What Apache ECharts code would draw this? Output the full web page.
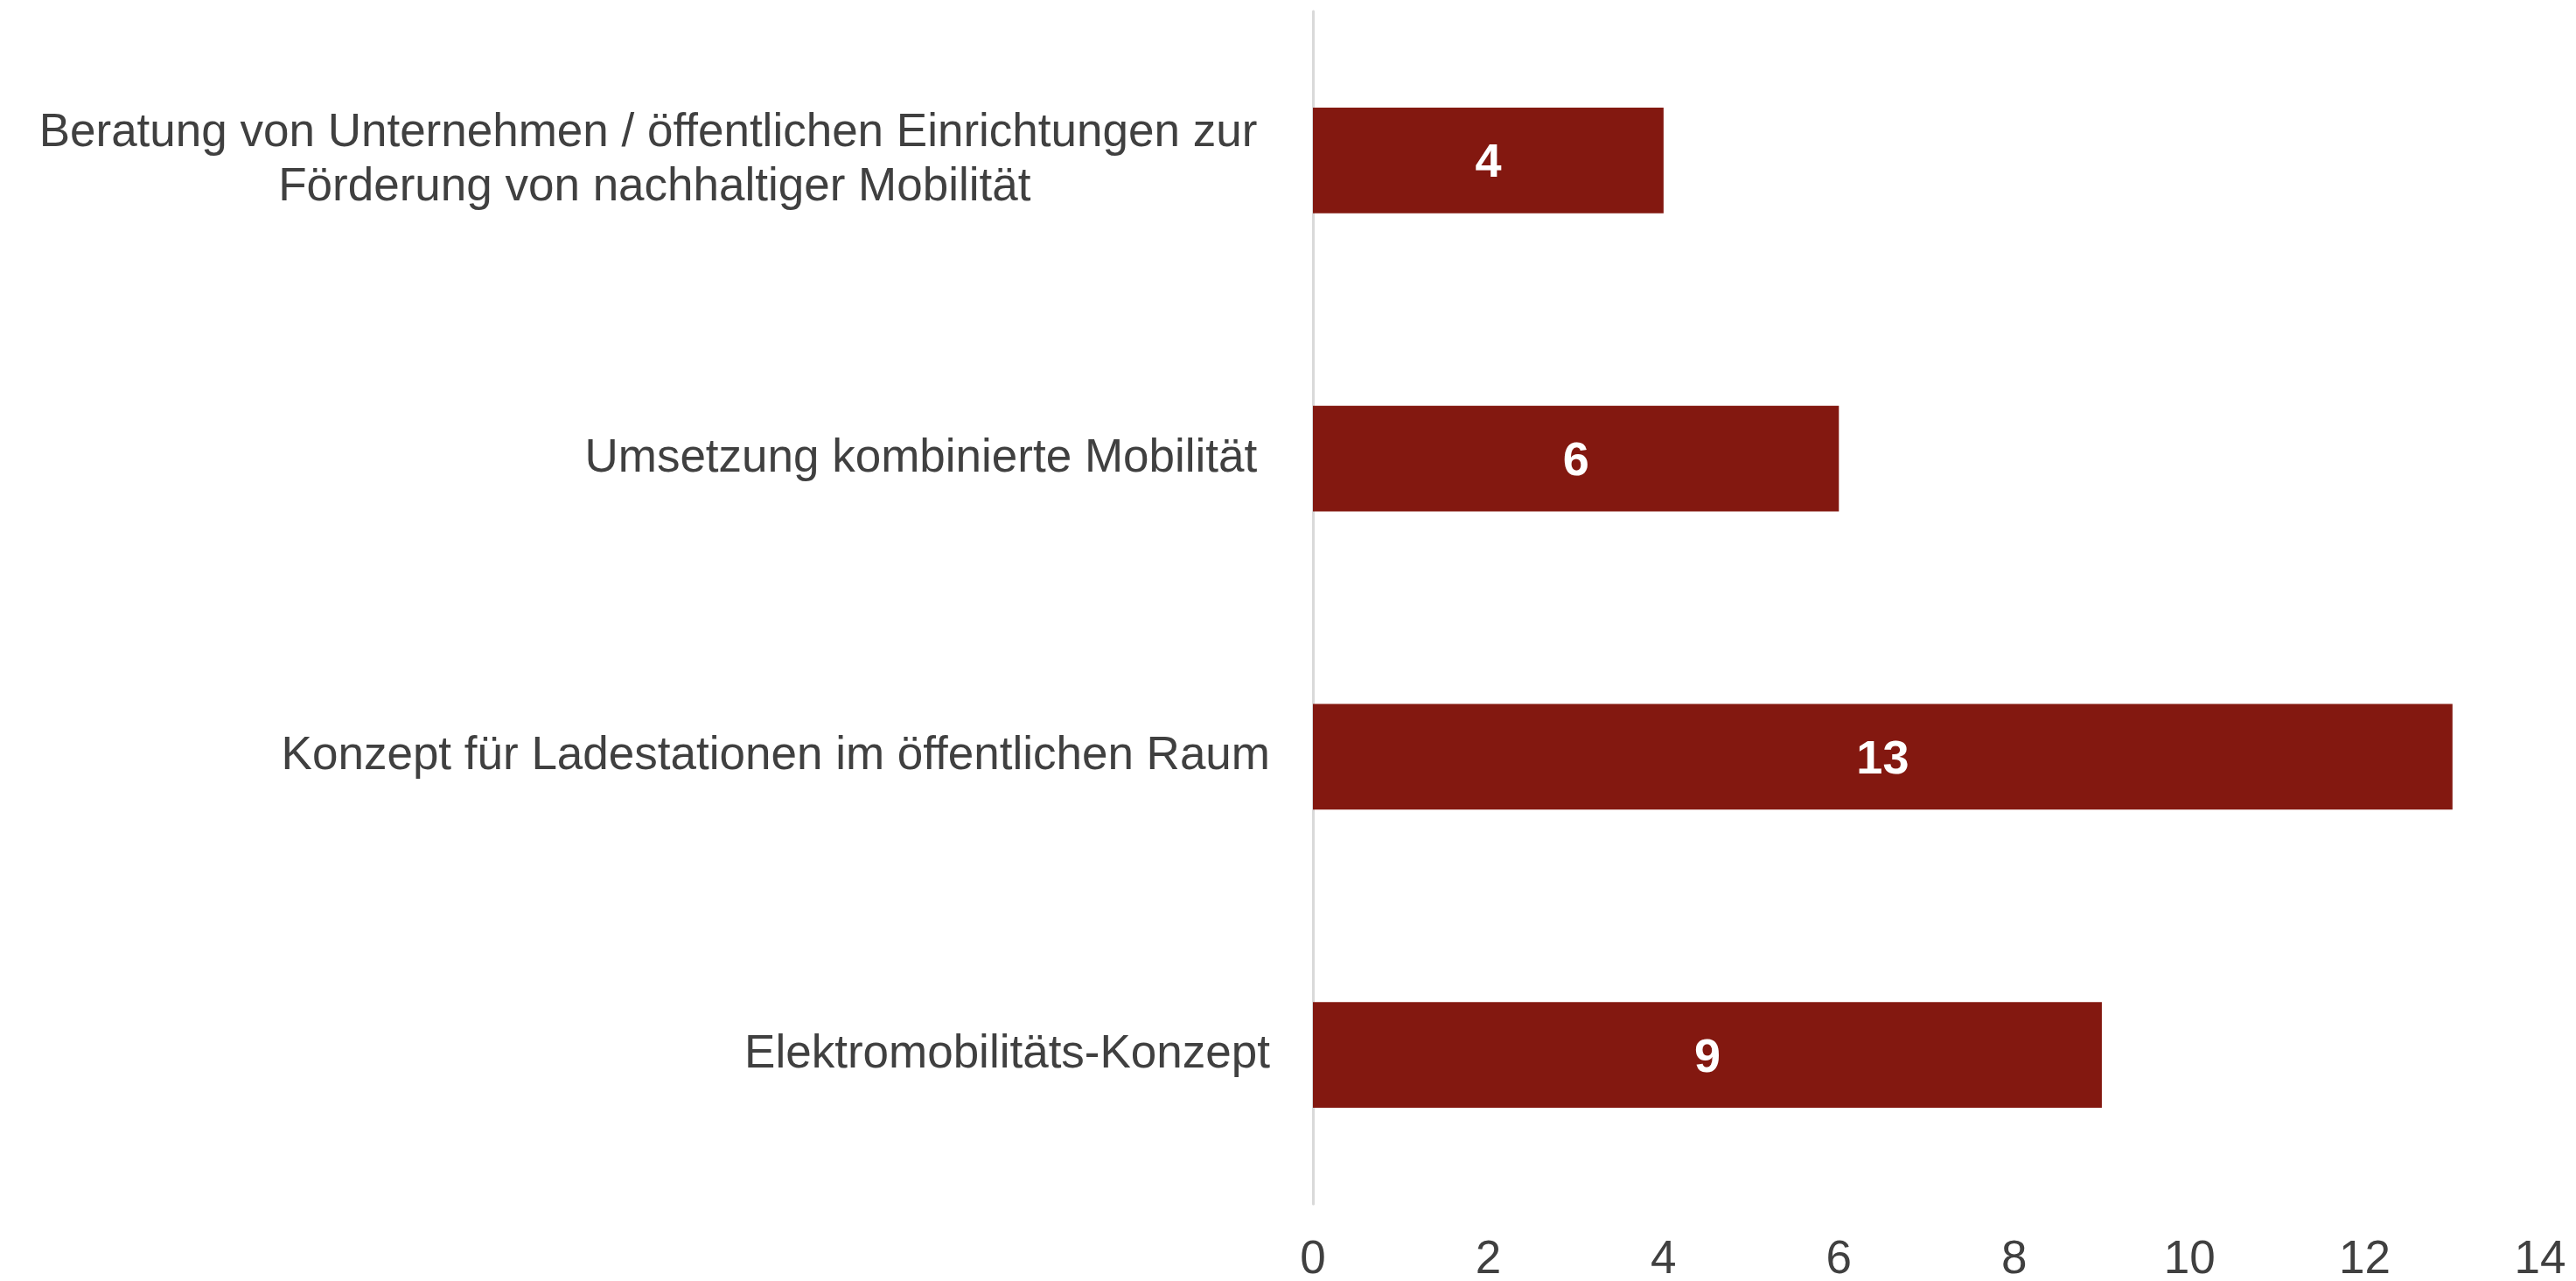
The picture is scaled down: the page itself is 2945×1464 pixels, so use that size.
<!DOCTYPE html>
<html lang="de">

<head>
  <meta charset="UTF-8">
  <title>Mobilität</title>
  <script src="https://cdn.jsdelivr.net/npm/echarts@6/dist/echarts.min.js"></script>
  <style>
    * {
      padding: 0;
      margin: 0;
    }

    #main {
      width: 2945px;
      height: 1464px;
      background: #fff;
    }
  </style>
</head>

<body>
  <div id="main"></div>
  <script>
    // categories top to bottom
    var categories = [
      'Beratung von Unternehmen / öffentlichen Einrichtungen zur \nFörderung von nachhaltiger Mobilität',
      'Umsetzung kombinierte Mobilität ',
      'Konzept für Ladestationen im öffentlichen Raum',
      'Elektromobilitäts-Konzept'
    ];
    var values = [4, 6, 13, 9];
    var xTicks = [0, 2, 4, 6, 8, 10, 12, 14];

    var textColor = '#404040';
    var font = 'Liberation Sans, Arial, sans-serif';

    var chartDom = document.getElementById('main');
    var myChart = echarts.init(chartDom);
    var option;

    option = {
      animation: false,
      grid: {
        left: 1501,
        right: 41,
        top: 13,
        bottom: 88,
        containLabel: false,
        outerBoundsMode: 'none'
      },
      xAxis: {
        type: 'value',
        min: xTicks[0],
        max: xTicks[xTicks.length - 1],
        interval: xTicks[1] - xTicks[0],
        axisLine: { show: false },
        axisTick: { show: false },
        splitLine: { show: false },
        axisLabel: {
          color: textColor,
          fontFamily: font,
          fontSize: 53,
          margin: 38
        }
      },
      yAxis: {
        type: 'category',
        inverse: true,
        data: categories,
        axisTick: { show: false },
        axisLine: {
          lineStyle: { color: '#d9d9d9', width: 3 }
        },
        axisLabel: {
          margin: 49,
          color: textColor,
          fontFamily: font,
          fontSize: 53,
          lineHeight: 62,
          formatter: function (v) {
            return v.split('\n').map(function (s) { return '{c|' + s + '}'; }).join('\n');
          },
          rich: {
            c: {
              align: 'center',
              color: textColor,
              fontFamily: font,
              fontSize: 53,
              lineHeight: 62
            }
          }
        }
      },
      series: [
        {
          type: 'bar',
          data: values,
          barWidth: '35.5%',
          itemStyle: { color: '#831810' },
          label: {
            show: true,
            position: 'inside',
            color: '#fff',
            fontFamily: font,
            fontWeight: 'bold',
            fontSize: 54,
            offset: [0, 4]
          }
        }
      ]
    };

    option && myChart.setOption(option);
  </script>
</body>

</html>
